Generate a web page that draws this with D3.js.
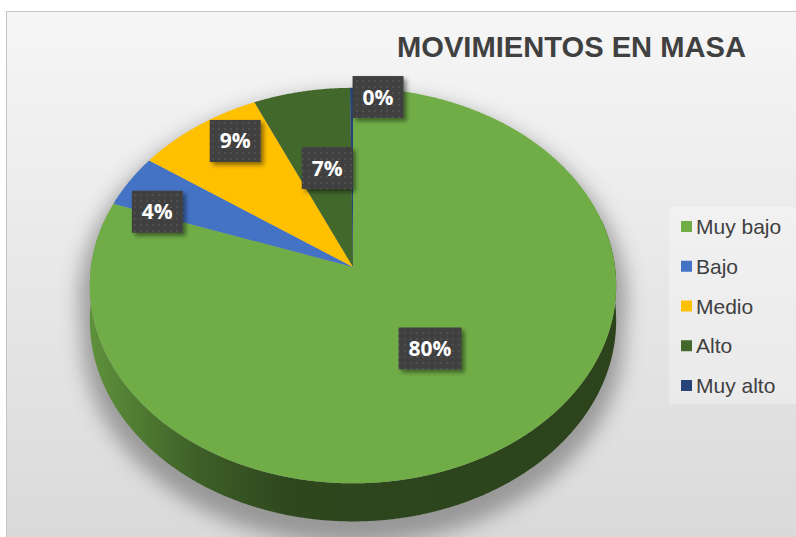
<!DOCTYPE html>
<html>
<head>
<meta charset="utf-8">
<script src="https://cdn.jsdelivr.net/npm/d3@7"></script>
<style>
  body { margin: 0; background: #fff; }
  svg { display: block; }
</style>
</head>
<body>
<svg id="chart" width="796" height="537"></svg>
<script>
// data
const categories = ["Muy bajo", "Bajo", "Medio", "Alto", "Muy alto"];
const values = [80.4, 4.3, 8.6, 6.5, 0.2];
const labels = ["80%", "4%", "9%", "7%", "0%"];
const colors = ["#70ad47", "#4472c4", "#ffc000", "#43682b", "#264478"];
const title = "MOVIMIENTOS EN MASA";

// layout of the 3d pie
const cx = 353, cy = 267, sx = 262, sy = 196, depth = 34.5, k = 0.094;
// where each label sits: fraction through slice, fraction of radius
const labelT = [0.5, 0.08, 0.65, 0.56, 0.5];
const labelR = [0.49, 0.82, 0.835, 0.54, 0.944];

const svg = d3.select("#chart");
const defs = svg.append("defs");

const bg = defs.append("linearGradient").attr("id", "bg")
  .attr("x1", 0).attr("y1", 0).attr("x2", 0).attr("y2", 1);
bg.append("stop").attr("offset", "0%").attr("stop-color", "#f6f6f6");
bg.append("stop").attr("offset", "100%").attr("stop-color", "#d9d9d9");

defs.append("filter").attr("id", "blur")
  .attr("x", "-30%").attr("y", "-30%").attr("width", "160%").attr("height", "160%")
  .append("feGaussianBlur").attr("stdDeviation", 10);

defs.append("filter").attr("id", "boxShadow")
  .attr("x", "-30%").attr("y", "-30%").attr("width", "160%").attr("height", "160%")
  .append("feDropShadow")
  .attr("dx", 3).attr("dy", 3).attr("stdDeviation", 2)
  .attr("flood-color", "#000").attr("flood-opacity", 0.45);

const pat = defs.append("pattern").attr("id", "dots")
  .attr("width", 6).attr("height", 6).attr("patternUnits", "userSpaceOnUse");
pat.append("rect").attr("width", 6).attr("height", 6).attr("fill", "#3f3f3f");
pat.append("circle").attr("cx", 3).attr("cy", 3).attr("r", 0.9).attr("fill", "#575757");

// side shading per slice colour, lit from the left
colors.forEach((c, i) => {
  const g = defs.append("linearGradient").attr("id", "side" + i)
    .attr("gradientUnits", "userSpaceOnUse")
    .attr("x1", cx - sx).attr("y1", 0).attr("x2", cx + sx).attr("y2", 0);
  [[0, 0.5], [0.21, 1.7], [0.38, 2.5], [1, 2.65]].forEach(([o, dk]) => {
    g.append("stop").attr("offset", o).attr("stop-color", d3.color(c).darker(dk));
  });
});

// frame
svg.append("rect")
  .attr("x", 6.5).attr("y", 11.5)
  .attr("width", 800).attr("height", 540)
  .attr("fill", "url(#bg)")
  .attr("stroke", "#c4c4c4");

// projection of a point on the disk (angle clockwise from top, radius, depth 0..1)
const xs = d3.scaleLinear().domain([-1, 1]).range([cx - sx, cx + sx]);
const ys = d3.scaleLinear().domain([-1, 1]).range([cy - sy, cy + sy]);
function proj(a, r, z) {
  const X = r * Math.sin(a), Y = -r * Math.cos(a);
  const w = 1 - k * Y;
  return [xs(X / w), ys((Y + z * depth / sy) / w)];
}

const pie = d3.pie().sort(null).value(d => d);
const arcs = pie(values);
const line = d3.line();

function rim(a0, a1, r, z) {
  const n = Math.max(2, Math.ceil((a1 - a0) / 0.005));
  return d3.range(n + 1).map(i => proj(a0 + (a1 - a0) * i / n, r, z));
}

// soft shadow under the pie
const sh = svg.append("g").attr("filter", "url(#blur)").attr("opacity", 0.5);
sh.append("path")
  .attr("d", line(rim(0, 2 * Math.PI, 1.04, 0.4)) + "Z")
  .attr("fill", "#555");
sh.append("path")
  .attr("d", line(rim(0, 2 * Math.PI, 1.03, 1.4)) + "Z")
  .attr("fill", "#555");

// side walls, only the front half can show
const lo = Math.PI / 2 - 0.25, hi = 3 * Math.PI / 2 + 0.25;
svg.append("g").selectAll("path")
  .data(arcs.filter(d => d.endAngle > lo && d.startAngle < hi))
  .join("path")
  .attr("d", d => {
    const a0 = Math.max(d.startAngle, lo), a1 = Math.min(d.endAngle, hi);
    return line(rim(a0, a1, 1, 0).concat(rim(a0, a1, 1, 1).reverse())) + "Z";
  })
  .attr("fill", d => `url(#side${d.index})`);

// top faces
svg.append("g").selectAll("path")
  .data(arcs)
  .join("path")
  .attr("d", d => line([[cx, cy]].concat(rim(d.startAngle, d.endAngle, 1, 0))) + "Z")
  .attr("fill", (d, i) => colors[i]);

// data labels
const lab = svg.append("g");
arcs.forEach((d, i) => {
  const a = d.startAngle + (d.endAngle - d.startAngle) * labelT[i];
  const [px, py] = proj(a, labelR[i], 0);
  const t = lab.append("text")
    .attr("font-family", "'Open Sans', sans-serif")
    .attr("font-weight", "bold")
    .attr("font-size", 21)
    .attr("fill", "#fff")
    .attr("text-anchor", "middle")
    .text(labels[i]);
  const tw = t.node().getComputedTextLength();
  const bw = tw + 20, bh = 42;
  const bx = d.value < 1 ? px + 1 : px - bw / 2;
  const by = py - bh / 2;
  lab.insert("rect", () => t.node())
    .attr("x", bx).attr("y", by)
    .attr("width", bw).attr("height", bh)
    .attr("fill", "url(#dots)")
    .attr("filter", "url(#boxShadow)");
  t.attr("x", bx + bw / 2).attr("y", py + 7.5);
});

// title
svg.append("text")
  .attr("x", 571.5).attr("y", 57)
  .attr("text-anchor", "middle")
  .attr("font-family", "'Liberation Sans', Arial, sans-serif")
  .attr("font-weight", "bold")
  .attr("font-size", 30)
  .attr("textLength", 349)
  .attr("lengthAdjust", "spacingAndGlyphs")
  .attr("fill", "#404040")
  .text(title);

// legend
const legend = svg.append("g");
legend.append("rect")
  .attr("x", 669).attr("y", 207)
  .attr("width", 140).attr("height", 197)
  .attr("fill", "#fff").attr("opacity", 0.3);
const ly = d3.scalePoint().domain(categories).range([226.5, 385.5]);
categories.forEach((c, i) => {
  legend.append("rect")
    .attr("x", 681).attr("y", ly(c) - 5.5)
    .attr("width", 11).attr("height", 11)
    .attr("fill", colors[i]);
  legend.append("text")
    .attr("x", 696).attr("y", ly(c) + 7.5)
    .attr("font-family", "'Liberation Sans', Arial, sans-serif")
    .attr("font-size", 21)
    .attr("fill", "#404040")
    .text(c);
});
</script>
</body>
</html>
